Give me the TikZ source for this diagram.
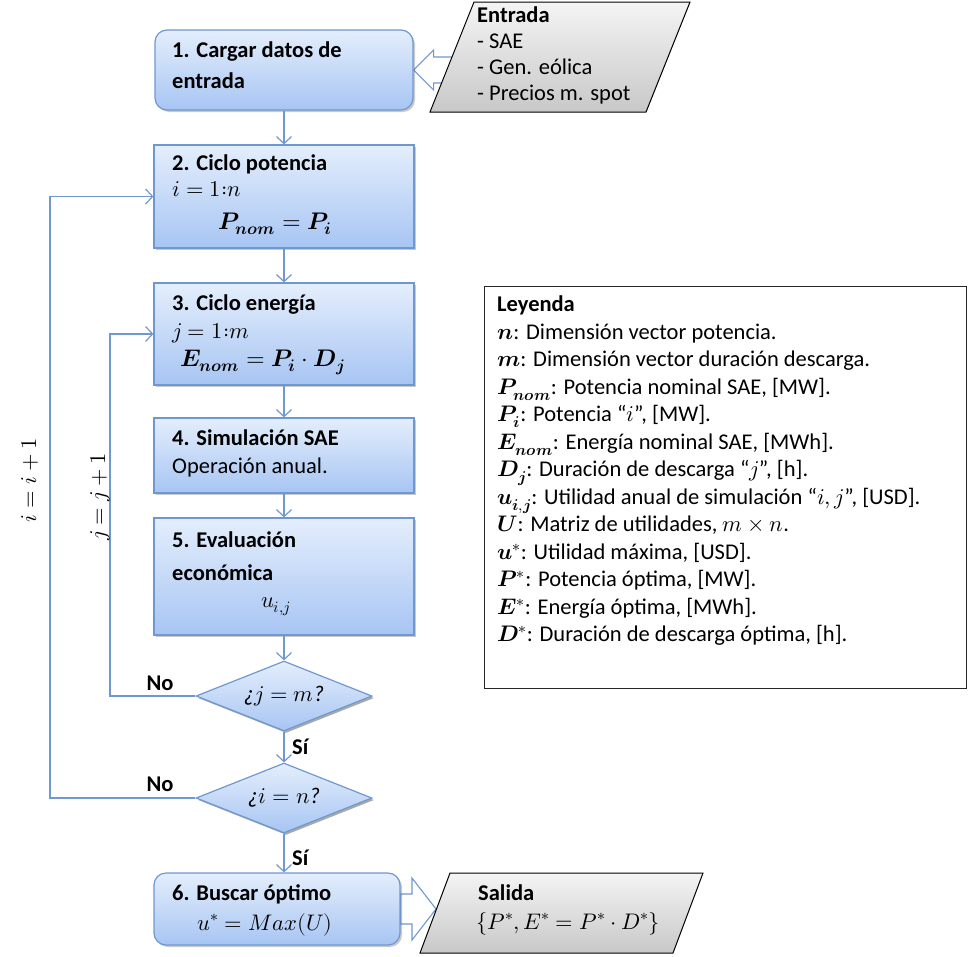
\documentclass[tikz,border=0pt]{standalone}
\usepackage{fontspec}
\usepackage{unicode-math}
\setmainfont{Carlito}
\setmathfont{Latin Modern Math}
\usetikzlibrary{shapes.geometric,arrows.meta,shadows,calc,backgrounds}
\definecolor{bline}{HTML}{6F98D0}
\definecolor{btop}{HTML}{E4EEFC}
\definecolor{bbot}{HTML}{A7C5F3}
\definecolor{gtop}{HTML}{F4F4F4}
\definecolor{gbot}{HTML}{C8C8C8}
\tikzset{
  stepbox/.style={draw=bline, line width=1.2pt, top color=btop, bottom color=bbot, inner sep=0pt,
    drop shadow={shadow xshift=2pt, shadow yshift=-2pt, opacity=0.3, fill=black!70}},
  roundbox/.style={stepbox, rounded corners=12pt},
  decision/.style={diamond, stepbox, drop shadow={shadow xshift=2pt, shadow yshift=-2pt, opacity=0.25, fill=black!70}},
  iobox/.style={draw=black, line width=1pt, top color=gtop, bottom color=gbot},
  conn/.style={draw=bline, line width=1.2pt, -{Straight Barb[length=7pt,width=15pt,line width=1.2pt]}},
  hollow/.style={draw=bline, line width=1.1pt, fill=white},
  lbl/.style={font=\fontsize{22.5}{26}\selectfont, inner sep=0pt, anchor=base west},
  bigm/.style={lbl, font=\fontsize{24}{28}\selectfont}
}
\begin{document}
\begin{tikzpicture}[x=1pt,y=-1pt]
\useasboundingbox (0,0) rectangle (968,956);
% boxes
\node[roundbox, minimum width=258, minimum height=80] (box1) at (284,70) {};
\node[stepbox, minimum width=260, minimum height=103] (box2) at (284,196.5) {};
\node[stepbox, minimum width=260, minimum height=102] (box3) at (284,334) {};
\node[stepbox, minimum width=260, minimum height=75] (box4) at (284,455.5) {};
\node[stepbox, minimum width=260, minimum height=117] (box5) at (284,576.5) {};
\node[decision, minimum width=176, minimum height=70] (d1) at (284,696) {};
\node[decision, minimum width=176, minimum height=70] (d2) at (284,798) {};
\node[roundbox, minimum width=246, minimum height=72] (box6) at (277,909) {};
% input / output (parallelograms)
\shade[iobox] (474,2) -- (690,2) -- (646,112) -- (430,112) -- cycle;
\shade[iobox] (450,873) -- (703,873) -- (673,953) -- (420,953) -- cycle;
\coordinate (entrada) at (447,70);
\coordinate (salida) at (436,909);
% legend
\node[draw=black!85, line width=1.3pt, minimum width=482, minimum height=402, anchor=north west, inner sep=0pt] (legend) at (484,286) {};
% hollow arrows
\begin{scope}[on background layer]
\draw[hollow] (box1.east) -- ++(20,-20) -- ++(0,7) -- ($(entrada)+(6,-13)$)
  -- ++(0,26) -- ($(box1.east)+(20,13)$) -- ++(0,7) -- cycle;
\draw[hollow] (salida) -- ++(-24,-31) -- ++(0,16) -- ($(box6.east)+(0,-15)$)
  -- ++(0,30) -- ($(salida)+(-24,15)$) -- ++(0,16) -- cycle;
\end{scope}
% connectors
\draw[conn] (box1.south) -- (box2.north);
\draw[conn] (box2.south) -- (box3.north);
\draw[conn] (box3.south) -- (box4.north);
\draw[conn] (box4.south) -- (box5.north);
\draw[conn] (box5.south) -- (d1.north);
\draw[conn] (d1.south) -- (d2.north);
\draw[conn] (d2.south) -- (d2.south |- box6.north);
\coordinate (jx) at (110,0);
\coordinate (ix) at (50,0);
\draw[conn] (d1.west) -- (d1.west -| jx) |- (box3.west);
\draw[conn] (d2.west) -- (d2.west -| ix) |- (box2.west);
% texts in boxes
\node[lbl] (t1a) at (172,57) {\textbf{1. Cargar datos de}};
\node[lbl] (t1b) at (172,88) {\textbf{entrada}};
\node[lbl] (t2a) at (172,170) {\textbf{2. Ciclo potencia}};
\node[lbl] (t2b) at (172,196) {$i = 1{:}n$};
\node[bigm] (t2c) at (218,229) {$\symbfit{P}_{\symbfit{nom}} = \symbfit{P}_{\symbfit{i}}$};
\node[lbl] (t3a) at (172,310) {\textbf{3. Ciclo energía}};
\node[lbl] (t3b) at (172,338) {$j = 1{:}m$};
\node[bigm] (t3c) at (180,366) {$\symbfit{E}_{\symbfit{nom}} = \symbfit{P}_{\symbfit{i}}\cdot\symbfit{D}_{\symbfit{j}}$};
\node[lbl] (t4a) at (172,445) {\textbf{4. Simulación SAE}};
\node[lbl] (t4b) at (172,473) {Operación anual.};
\node[lbl] (t5a) at (172,547) {\textbf{5. Evaluación}};
\node[lbl] (t5b) at (172,580) {\textbf{económica}};
\node[lbl, anchor=base] (t5c) at (276,607) {$u_{i,j}$};
\node[lbl, anchor=center] (td1) at (d1) {\textit{¿}$j = m$\textit{?}};
\node[lbl, anchor=center] (td2) at (d2) {\textit{¿}$i = n$\textit{?}};
\node[lbl] (t6a) at (172,900) {\textbf{6. Buscar óptimo}};
\node[lbl, anchor=base] (t6b) at (265,930) {$u^{*} = Max(U)$};
% input/output texts
\node[lbl, anchor=north west, align=left, font=\fontsize{22.5}{26}\selectfont] (tin) at (477,7)
  {\textbf{Entrada}\\- SAE\\- Gen. eólica\\- Precios m. spot};
\node[lbl] (tout1) at (478,900) {\textbf{Salida}};
\node[lbl] (tout2) at (476,929) {$\{P^{*}, E^{*} = P^{*}\cdot D^{*}\}$};
% loop labels
\node[lbl, anchor=base] (no1) at (160,690) {\textbf{No}};
\node[lbl, anchor=base] (no2) at (160,791) {\textbf{No}};
\node[lbl] (si1) at (292,754) {\textbf{Sí}};
\node[lbl] (si2) at (292,865) {\textbf{Sí}};
\node[lbl, anchor=center, rotate=90] (ilab) at (30,480) {$i = i + 1$};
\node[lbl, anchor=center, rotate=90] (jlab) at (100,497) {$j = j + 1$};
% legend text
\node[lbl, anchor=north west, align=left, font=\fontsize{22.5}{27.5}\selectfont] (tleg) at (497,296) {%
\textbf{Leyenda}\\
$\symbfit{n}$: Dimensión vector potencia.\\
$\symbfit{m}$: Dimensión vector duración descarga.\\
$\symbfit{P}_{\symbfit{nom}}$: Potencia nominal SAE, [MW].\\
$\symbfit{P}_{\symbfit{i}}$: Potencia “$i$”, [MW].\\
$\symbfit{E}_{\symbfit{nom}}$: Energía nominal SAE, [MWh].\\
$\symbfit{D}_{\symbfit{j}}$: Duración de descarga “$j$”, [h].\\
$\symbfit{u}_{\symbfit{i},\symbfit{j}}$: Utilidad anual de simulación “$i,j$”, [USD].\\
$\symbfit{U}$: Matriz de utilidades, $m\times n$.\\
$\symbfit{u}^{*}$: Utilidad máxima, [USD].\\
$\symbfit{P}^{*}$: Potencia óptima, [MW].\\
$\symbfit{E}^{*}$: Energía óptima, [MWh].\\
$\symbfit{D}^{*}$: Duración de descarga óptima, [h].};
\end{tikzpicture}
\end{document}
